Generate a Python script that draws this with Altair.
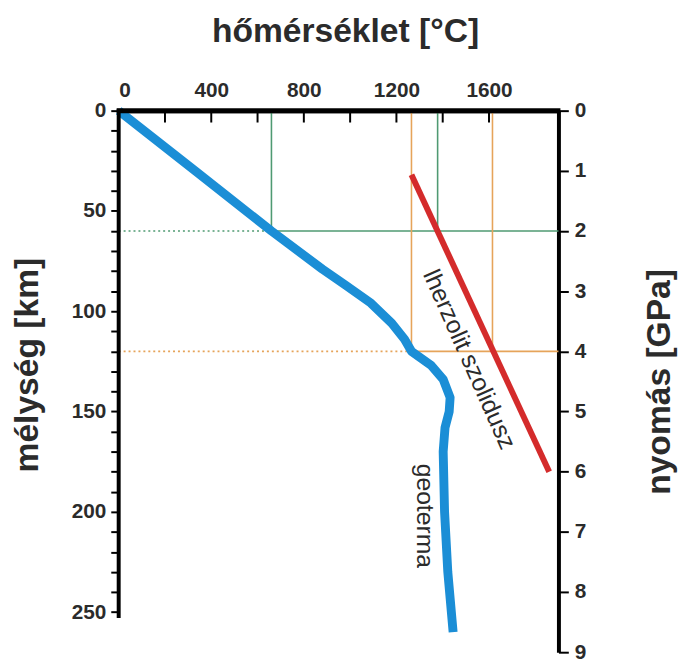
import altair as alt
import pandas as pd

# geotherm (temperature °C, depth km)
geo_temp = [0, 330, 660, 880, 980, 1090, 1180, 1235, 1265, 1350, 1402, 1432, 1428, 1410, 1402, 1408, 1422, 1445]
geo_depth = [0, 30, 60, 79, 87, 96, 106, 114, 120, 127, 134, 143, 150, 158, 170, 200, 230, 260]

# lherzolite solidus
sol_temp = [1265, 1860]
sol_depth = [32, 180]

# reference guide lines (solid)
ref_x = [660, 1378, 660, 1265, 1615, 1265]
ref_x2 = [660, 1378, 1900, 1265, 1615, 1900]
ref_y = [0, 0, 60, 0, 0, 120]
ref_y2 = [60, 60, 60, 120, 120, 120]
ref_grp = ["green", "green", "green", "orange", "orange", "orange"]

# reference guide lines (dotted)
dot_x = [0, 0]
dot_x2 = [660, 1265]
dot_y = [60, 120]
dot_grp = ["green", "orange"]

top_ticks = [0, 200, 400, 600, 800, 1000, 1200, 1400, 1600]
top_labels = [0, 400, 800, 1200, 1600]
depth_ticks = list(range(0, 260, 10))
pressure_ticks_km = [0, 30, 60, 90, 120, 150, 180, 210, 240, 270]

labels_txt = ["lherzolit szolidusz", "geoterma"]
labels_temp = [1515, 1325]
labels_depth = [124, 202]
labels_angle = [66, 90]

GREEN = "#4f9a72"
ORANGE = "#e6a45a"
BLUE = "#1b8ed6"
RED = "#d42b2b"
INK = "#2b2b2b"
FONT = "Liberation Sans"

geo = pd.DataFrame({"temp": geo_temp, "depth": geo_depth, "i": range(len(geo_temp))})
sol = pd.DataFrame({"temp": sol_temp, "depth": sol_depth})
ref = pd.DataFrame({"x": ref_x, "x2": ref_x2, "y": ref_y, "y2": ref_y2, "g": ref_grp})
dots = pd.DataFrame({"x": dot_x, "x2": dot_x2, "y": dot_y, "g": dot_grp})
ticks = pd.DataFrame({"x": top_ticks})
lab = pd.DataFrame({"txt": labels_txt, "x": labels_temp, "depth": labels_depth, "a": labels_angle})
laxis = pd.DataFrame({"y": [0], "y2": [252]})

xscale = alt.Scale(domain=[0, 1900], nice=False, zero=False)
yscale = alt.Scale(domain=[0, 270], nice=False, zero=False, reverse=True)
cscale = alt.Scale(domain=["green", "orange"], range=[GREEN, ORANGE])

x_axis = alt.Axis(
    orient="top", values=top_labels, ticks=False, domain=True, domainWidth=4,
    domainColor="black", format="d",
    labelPadding=10, labelFontSize=21, labelFontWeight="bold",
    labelColor=INK, labelFont=FONT, grid=False,
    title="hőmérséklet [°C]", titleFontSize=34, titleFontWeight="bold", titleColor=INK,
    titleFont=FONT, titleX=229, titleY=-70, titleBaseline="alphabetic", titleAlign="center",
)

left_axis = alt.Axis(
    orient="left", values=depth_ticks, domain=False, ticks=True, tickSize=8, tickWidth=2,
    tickColor="black", labelPadding=5, labelFontSize=21, labelFontWeight="bold",
    labelColor=INK, labelFont=FONT, grid=False,
    labelExpr="datum.value % 50 == 0 ? datum.value : ''",
    title="mélység [km]", titleFontSize=34, titleFontWeight="bold", titleColor=INK,
    titleFont=FONT, titleAngle=270, titleX=-82, titleY=257, titleBaseline="alphabetic",
    titleAlign="center",
)

right_axis = alt.Axis(
    orient="right", values=pressure_ticks_km, domain=True, domainWidth=4, domainColor="black",
    ticks=True, tickSize=10, tickWidth=2, tickColor="black", labelPadding=6,
    labelFontSize=21, labelFontWeight="bold", labelColor=INK, labelFont=FONT, grid=False,
    labelExpr="datum.value / 30",
    title="nyomás [GPa]", titleFontSize=34, titleFontWeight="bold", titleColor=INK,
    titleFont=FONT, titleAngle=270, titleX=112, titleY=274, titleBaseline="alphabetic",
    titleAlign="center",
)

X = alt.X("x:Q", scale=xscale, axis=x_axis)

ref_layer = alt.Chart(ref).mark_rule(strokeWidth=1.6).encode(
    x=X,
    x2="x2:Q",
    y=alt.Y("y:Q", scale=yscale, axis=None),
    y2="y2:Q",
    color=alt.Color("g:N", scale=cscale, legend=None),
)

dot_layer = alt.Chart(dots).mark_rule(strokeWidth=1.6, strokeDash=[2, 3]).encode(
    x=X,
    x2="x2:Q",
    y=alt.Y("y:Q", scale=yscale, axis=None),
    color=alt.Color("g:N", scale=cscale, legend=None),
)

geo_layer = alt.Chart(geo).mark_line(strokeWidth=9, color=BLUE, strokeJoin="round", strokeCap="butt").encode(
    x=alt.X("temp:Q", scale=xscale, axis=x_axis),
    y=alt.Y("depth:Q", scale=yscale, axis=left_axis),
    order="i:Q",
)

sol_layer = alt.Chart(sol).mark_line(strokeWidth=6, color=RED).encode(
    x=alt.X("temp:Q", scale=xscale, axis=x_axis),
    y=alt.Y("depth:Q", scale=yscale, axis=right_axis),
)

text_layer = alt.Chart(lab).mark_text(
    font=FONT, fontSize=25, color=INK, align="center", baseline="middle"
).encode(
    x=X,
    y=alt.Y("depth:Q", scale=yscale, axis=None),
    text="txt:N",
    angle=alt.Angle("a:Q", scale=None),
)

tick_layer = alt.Chart(ticks).mark_rule(strokeWidth=2, color="black").encode(
    x=X,
    y=alt.value(0),
    y2=alt.value(12),
)

frame_layer = alt.Chart(laxis).mark_rule(strokeWidth=5, color="#000000").encode(
    x=alt.value(-2),
    x2=alt.value(447),
    y=alt.value(0),
)

laxis_layer = alt.Chart(laxis).mark_rule(strokeWidth=4, color="black", strokeCap="square").encode(
    x=alt.value(0),
    y=alt.Y("y:Q", scale=yscale, axis=None),
    y2="y2:Q",
)

chart = alt.layer(
    ref_layer, dot_layer, geo_layer, sol_layer, text_layer, tick_layer, laxis_layer, frame_layer
).resolve_axis(y="independent").properties(
    width=445, height=548,
    autosize=alt.AutoSizeParams(type="none"),
    padding={"left": 112, "top": 100, "right": 122, "bottom": 3},
    background="white",
).configure_view(strokeWidth=0, stroke="transparent")

chart.save("out.html", embed_options={"renderer": "svg", "actions": False})
